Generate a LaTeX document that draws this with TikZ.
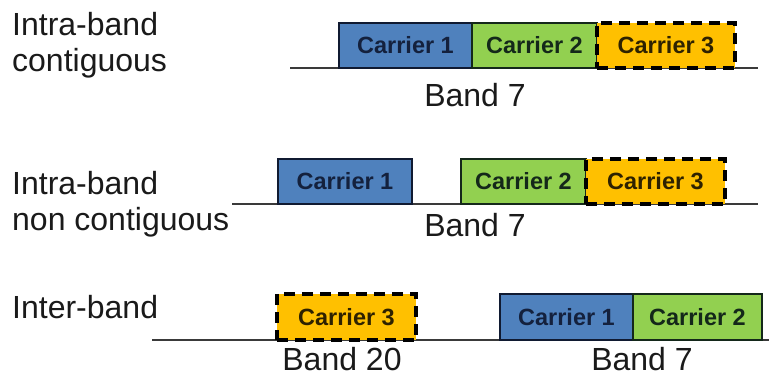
\documentclass[tikz,border=0pt]{standalone}
\usepackage{fontspec}
\setmainfont{Liberation Sans}
\definecolor{cblue}{HTML}{4F81BD}
\definecolor{cgreen}{HTML}{92D050}
\definecolor{corange}{HTML}{FFC000}
\definecolor{lineg}{HTML}{3A3A3A}
\definecolor{txtblue}{HTML}{14213D}
\definecolor{txtgreen}{HTML}{14281A}
\definecolor{txtorange}{HTML}{2E2200}
\definecolor{labtxt}{HTML}{1A1A1A}
\tikzset{
  bandline/.style={draw=lineg, line width=1.4pt},
  cbox/.style={anchor=south west, inner sep=0pt, outer sep=0pt,
    font=\fontsize{23.5}{28}\selectfont\bfseries, line width=1.2pt},
  c1box/.style={cbox, fill=cblue, draw=txtblue!80!black, text=txtblue},
  c2box/.style={cbox, fill=cgreen, draw=txtgreen, text=txtgreen},
  c3box/.style={cbox, fill=corange, draw=black, text=txtorange, line width=3.8pt, dash pattern=on 11pt off 7pt},
  rowlab/.style={anchor=base west, inner sep=0pt, text=labtxt, font=\fontsize{32}{38}\selectfont},
  bandlab/.style={anchor=base, inner sep=0pt, text=labtxt, font=\fontsize{32}{38}\selectfont}
}
\begin{document}
\begin{tikzpicture}[x=1pt, y=-1pt]
\useasboundingbox[fill=white] (0,0) rectangle (772,379);

% row labels
\node[rowlab] (lab1a) at (12,36) {Intra-band};
\node[rowlab] (lab1b) at (12,72) {contiguous};
\node[rowlab] (lab2a) at (12,195) {Intra-band};
\node[rowlab] (lab2b) at (12,231) {non contiguous};
\node[rowlab] (lab3a) at (12,319) {Inter-band};

% baselines
\coordinate (l1a) at (290,68);  \coordinate (l1b) at (758,68);
\coordinate (l2a) at (232,204); \coordinate (l2b) at (758,204);
\coordinate (l3a) at (152,340); \coordinate (l3b) at (769,340);
\draw[bandline] (l1a) -- (l1b);
\draw[bandline] (l2a) -- (l2b);
\draw[bandline] (l3a) -- (l3b);

% row 1: intra-band contiguous
\node[c1box, minimum width=133pt, minimum height=45pt] (r1c1) at (339,68) {Carrier 1};
\node[c2box, minimum width=125pt, minimum height=45pt] (r1c2) at (472,68) {Carrier 2};
\node[c3box, minimum width=138pt, minimum height=45pt] (r1c3) at (597,68) {Carrier 3};
\node[bandlab] (b1) at (475,107) {Band 7};

% row 2: intra-band non contiguous
\node[c1box, minimum width=134pt, minimum height=45pt] (r2c1) at (278,204) {Carrier 1};
\node[c2box, minimum width=125pt, minimum height=45pt] (r2c2) at (461,204) {Carrier 2};
\node[c3box, minimum width=139pt, minimum height=45pt] (r2c3) at (586,204) {Carrier 3};
\node[bandlab] (b2) at (475,237) {Band 7};

% row 3: inter-band
\node[c3box, minimum width=139pt, minimum height=46pt] (r3c3) at (277,340) {Carrier 3};
\node[c1box, minimum width=133pt, minimum height=46pt] (r3c1) at (500,340) {Carrier 1};
\node[c2box, minimum width=129pt, minimum height=46pt] (r3c2) at (633,340) {Carrier 2};
\node[bandlab] (b3) at (342,371) {Band 20};
\node[bandlab] (b4) at (642,371) {Band 7};
\end{tikzpicture}
\end{document}
